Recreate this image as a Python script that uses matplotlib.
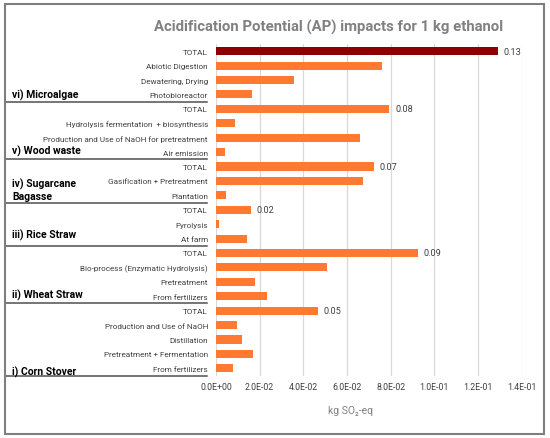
import matplotlib
matplotlib.use("Agg")
import matplotlib.pyplot as plt
from matplotlib.patches import Rectangle
from matplotlib.transforms import blended_transform_factory

plt.rcParams["font.family"] = ["Roboto", "DejaVu Sans"]

# rows, top to bottom
categories = [
    "TOTAL", "Abiotic Digestion", "Dewatering, Drying", "Photobioreactor",
    "TOTAL", "Hydrolysis fermentation  + biosynthesis",
    "Production and Use of NaOH for pretreatment", "Air emission",
    "TOTAL", "Gasification + Pretreatment", "Plantation",
    "TOTAL", "Pyrolysis", "At farm",
    "TOTAL", "Bio-process (Enzymatic Hydrolysis)", "Pretreatment", "From fertilizers",
    "TOTAL", "Production and Use of NaOH", "Distillation",
    "Pretreatment + Fermentation", "From fertilizers",
]
values = [
    0.1291, 0.0763, 0.0356, 0.0165,
    0.0795, 0.0088, 0.0661, 0.0040,
    0.0723, 0.0675, 0.0045,
    0.0160, 0.0014, 0.0144,
    0.0927, 0.0508, 0.0178, 0.0236,
    0.0467, 0.0096, 0.0117, 0.0168, 0.0079,
]
groups = ["vi) Microalgae", "v) Wood waste", "iv) Sugarcane\nBagasse",
          "iii) Rice Straw", "ii) Wheat Straw", "i) Corn Stover"]
group_sizes = [4, 4, 3, 3, 4, 5]
xticks = [0.0, 0.02, 0.04, 0.06, 0.08, 0.10, 0.12, 0.14]

ORANGE = "#FF7A30"
DARKRED = "#8B0000"
GREY = "#808080"
TXT = "#404040"

W, H = 550, 439
fig = plt.figure(figsize=(W / 100, H / 100), dpi=100)
ax = fig.add_axes([216 / W, 1 - 376.5 / H, (521.5 - 216) / W, (376.5 - 45) / H])

ypos = list(range(len(categories)))
colors = [DARKRED if i == 0 else ORANGE for i in ypos]
ax.barh(ypos, values, height=0.56, color=colors, zorder=3)

# value labels on the TOTAL rows
for y, cat, v in zip(ypos, categories, values):
    if cat == "TOTAL":
        ax.annotate(f"{v:.2f}", (v, y), xytext=(4, 0), textcoords="offset points",
                    va="center", ha="left", fontsize=6.6, color=TXT)

ax.set_ylim(len(categories) - 0.5, -0.5)
ax.set_xlim(0, 0.14)
ax.set_yticks(ypos)
ax.set_yticklabels(categories, fontsize=5.85, color=TXT)
ax.set_xticks(xticks)
ax.set_xticklabels([f"{t:.1E}" for t in xticks], fontsize=6.3, color=TXT)
ax.tick_params(axis="both", length=0)
ax.tick_params(axis="y", pad=5.8)
ax.tick_params(axis="x", pad=4.6)
ax.grid(axis="x", color="#D9D9D9", lw=0.9, zorder=0)
for s in ax.spines.values():
    s.set_visible(False)

# group labels and separators reaching out to the left border
tr = blended_transform_factory(fig.transFigure, ax.transData)
label_shift = [0.0, -0.1, -0.4, -0.3, -0.1, 0.2]
end = -1
for name, n, dy in zip(groups, group_sizes, label_shift):
    end += n
    ax.plot([5 / W, 207 / W], [end + 0.5, end + 0.5], transform=tr, color="#505050",
            lw=1.1, clip_on=False)
    ax.text(12 / W, end + dy, name, transform=tr, ha="left", va="center",
            fontsize=7.5, fontweight="bold", color="black", linespacing=1.25)

fig.text(154 / W, 1 - 27 / H, "Acidification Potential (AP) impacts for 1 kg ethanol",
         ha="left", va="center", fontsize=10.7, fontweight="bold", color=GREY)
fig.text(350 / W, 1 - 411 / H, "kg SO\u2082-eq", ha="center", va="center",
         fontsize=7.5, color=GREY)

fig.patches.append(Rectangle((5 / W, 1 - 435 / H), 539 / W, 430 / H,
                             transform=fig.transFigure, fill=False,
                             edgecolor="#7F7F7F", lw=1.5))

fig.savefig("out.png", dpi=100)
